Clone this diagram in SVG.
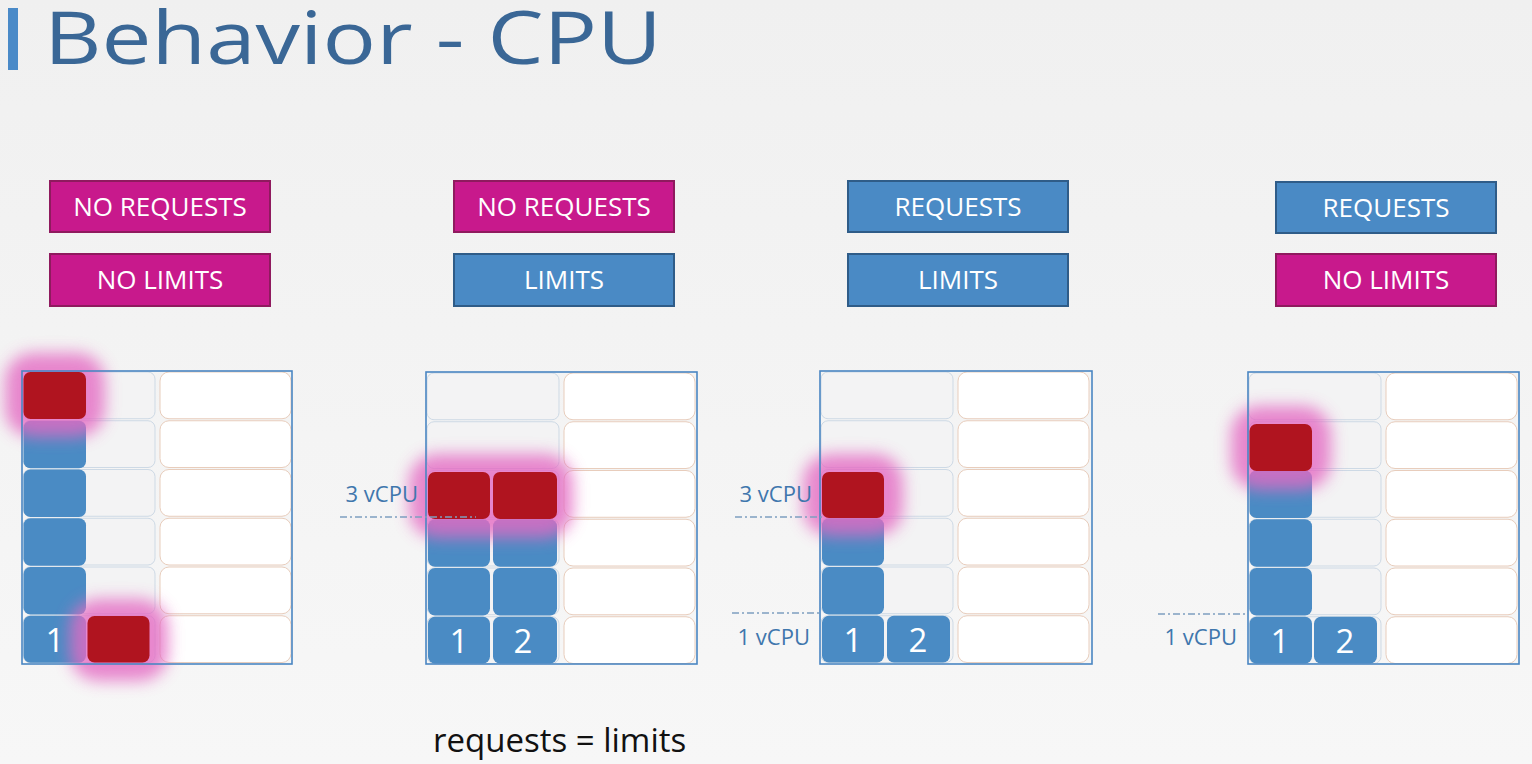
<svg xmlns="http://www.w3.org/2000/svg" xmlns:xlink="http://www.w3.org/1999/xlink" width="1532" height="764" viewBox="0 0 1532 764">
<defs>
<linearGradient id="bg" x1="0" y1="0" x2="0" y2="1">
<stop offset="0" stop-color="#f0f0f0"/>
<stop offset="1" stop-color="#f7f7f7"/>
</linearGradient>
<filter id="glow" filterUnits="userSpaceOnUse" x="-200" y="-200" width="600" height="700">
<feGaussianBlur stdDeviation="8"/>
</filter>
<g id="cells">
<rect class="lc" x="1" y="1" width="132" height="46.75"/>
<rect class="lc" x="1" y="49.75" width="132" height="46.75"/>
<rect class="lc" x="1" y="98.5" width="132" height="46.75"/>
<rect class="lc" x="1" y="147.25" width="132" height="46.75"/>
<rect class="lc" x="1" y="196" width="132" height="46.75"/>
<rect class="lc" x="1" y="244.75" width="132" height="46.75"/>
<rect class="rc" x="138" y="1" width="131" height="46.75"/>
<rect class="rc" x="138" y="49.75" width="131" height="46.75"/>
<rect class="rc" x="138" y="98.5" width="131" height="46.75"/>
<rect class="rc" x="138" y="147.25" width="131" height="46.75"/>
<rect class="rc" x="138" y="196" width="131" height="46.75"/>
<rect class="rc" x="138" y="244.75" width="131" height="46.75"/>
</g>
</defs>
<style>
.lc{fill:#f3f3f4;stroke:#cdd9e5;stroke-width:1;rx:7px;ry:7px}
.rc{fill:#ffffff;stroke:#e8cdbc;stroke-width:1;rx:9px;ry:9px}
.frame{fill:none;stroke:#4a86c2;stroke-width:1.6}
.blue{fill:#4a8bc4;rx:7px;ry:7px}
.red{fill:#b0141f;rx:7px;ry:7px}
.glow{fill:#e46ac3;opacity:0.8}
.num{font-family:"Open Sans","Noto Sans",sans-serif;font-size:33px;fill:#ffffff;text-anchor:middle}
.mag{fill:#c8198c;stroke:#8f1a5e;stroke-width:2}
.blu{fill:#4a8ac5;stroke:#2f5c88;stroke-width:2}
.btxt{font-family:"Open Sans","Noto Sans",sans-serif;font-size:26px;fill:#ffffff;text-anchor:middle}
.vcpu{font-family:"Open Sans","Noto Sans",sans-serif;font-size:22px;fill:#3f77ad;text-anchor:end}
.guide{stroke:#7e9ec0;stroke-width:1.3;stroke-dasharray:7 3 2 3;fill:none}
</style>
<rect x="0" y="0" width="1532" height="764" fill="url(#bg)"/>

<g id="title">
<rect x="8" y="8" width="10" height="62" fill="#4a8ac8"/>
<text x="44" y="64" font-family="Open Sans, Noto Sans, sans-serif" font-size="74" fill="#3a6796" textLength="618" lengthAdjust="spacingAndGlyphs">Behavior - CPU</text>
</g>

<!-- Buttons -->
<g id="p1-requests"><rect class="mag" x="50" y="181" width="220" height="51"/><text class="btxt" x="160" y="216">NO REQUESTS</text></g>
<g id="p1-limits"><rect class="mag" x="50" y="254" width="220" height="52"/><text class="btxt" x="160" y="289">NO LIMITS</text></g>
<g id="p2-requests"><rect class="mag" x="454" y="181" width="220" height="51"/><text class="btxt" x="564" y="216">NO REQUESTS</text></g>
<g id="p2-limits"><rect class="blu" x="454" y="254" width="220" height="52"/><text class="btxt" x="564" y="289">LIMITS</text></g>
<g id="p3-requests"><rect class="blu" x="848" y="181" width="220" height="51"/><text class="btxt" x="958" y="216">REQUESTS</text></g>
<g id="p3-limits"><rect class="blu" x="848" y="254" width="220" height="52"/><text class="btxt" x="958" y="289">LIMITS</text></g>
<g id="p4-requests"><rect class="blu" x="1276" y="182" width="220" height="51"/><text class="btxt" x="1386" y="217">REQUESTS</text></g>
<g id="p4-limits"><rect class="mag" x="1276" y="254" width="220" height="52"/><text class="btxt" x="1386" y="289">NO LIMITS</text></g>

<!-- Panel 1 -->
<g id="panel1" transform="translate(22,371)">
<use xlink:href="#cells"/>
<rect class="blue" x="1.5" y="49.75" width="62.5" height="47.5"/>
<rect class="blue" x="1.5" y="98.5" width="62.5" height="47.5"/>
<rect class="blue" x="1.5" y="147.25" width="62.5" height="47.5"/>
<rect class="blue" x="1.5" y="196" width="62.5" height="47.5"/>
<rect class="blue" x="1.5" y="244.75" width="62.5" height="47"/>
<rect class="glow" filter="url(#glow)" x="-17" y="-18" width="100" height="84" rx="28"/>
<rect class="glow" filter="url(#glow)" x="48" y="228" width="98" height="82" rx="28"/>
<rect class="red" x="1.5" y="1" width="62.5" height="47"/>
<rect class="red" x="65.5" y="245" width="62" height="46.5"/>
<text class="num" x="33" y="281">1</text>
<rect class="frame" x="0" y="0" width="270" height="293"/>
</g>

<!-- Panel 2 -->
<g id="panel2" transform="translate(426,372)">
<use xlink:href="#cells"/>
<rect class="blue" x="2" y="147.25" width="62" height="47.5"/>
<rect class="blue" x="2" y="196" width="62" height="47.5"/>
<rect class="blue" x="2" y="244.75" width="62" height="46.75"/>
<rect class="blue" x="67" y="147.25" width="64" height="47.5"/>
<rect class="blue" x="67" y="196" width="64" height="47.5"/>
<rect class="blue" x="67" y="244.75" width="64" height="46.75"/>
<rect class="glow" filter="url(#glow)" x="-17" y="82" width="164" height="84" rx="28"/>
<rect class="red" x="2" y="100" width="62" height="47"/>
<rect class="red" x="67" y="100" width="64" height="47"/>
<text class="num" x="33" y="281">1</text>
<text class="num" x="97" y="281">2</text>
<rect class="frame" x="0" y="0" width="271" height="292"/>
</g>

<!-- Panel 3 -->
<g id="panel3" transform="translate(820,371)">
<use xlink:href="#cells"/>
<rect class="blue" x="2" y="147.25" width="62" height="47.5"/>
<rect class="blue" x="2" y="196" width="62" height="47.5"/>
<rect class="blue" x="2" y="244.75" width="62" height="46.75"/>
<rect class="blue" x="67" y="244.75" width="63" height="46.75"/>
<rect class="glow" filter="url(#glow)" x="-17" y="83" width="100" height="82" rx="28"/>
<rect class="red" x="2" y="101" width="62" height="46"/>
<text class="num" x="33" y="281">1</text>
<text class="num" x="98" y="281">2</text>
<rect class="frame" x="0" y="0" width="272" height="293"/>
</g>

<!-- Panel 4 -->
<g id="panel4" transform="translate(1248,372)">
<use xlink:href="#cells"/>
<rect class="blue" x="1.5" y="98.5" width="62.5" height="47.5"/>
<rect class="blue" x="1.5" y="147.25" width="62.5" height="47.5"/>
<rect class="blue" x="1.5" y="196" width="62.5" height="47.5"/>
<rect class="blue" x="1.5" y="244.75" width="62.5" height="46.75"/>
<rect class="blue" x="66" y="244.75" width="63" height="46.75"/>
<rect class="glow" filter="url(#glow)" x="-17" y="34" width="100" height="84" rx="28"/>
<rect class="red" x="1.5" y="52" width="62.5" height="47"/>
<text class="num" x="32" y="281">1</text>
<text class="num" x="97" y="281">2</text>
<rect class="frame" x="0" y="0" width="271" height="292"/>
</g>

<!-- Guide lines -->
<g id="connectors">
<line class="guide" x1="340" y1="517" x2="476" y2="517"/>
<line class="guide" x1="735" y1="517" x2="822" y2="517"/>
<line class="guide" x1="732" y1="613" x2="820" y2="613"/>
<line class="guide" x1="1158" y1="614" x2="1248" y2="614"/>
</g>

<g id="labels">
<text class="vcpu" x="418" y="502">3 vCPU</text>
<text class="vcpu" x="812" y="502">3 vCPU</text>
<text class="vcpu" x="810" y="645">1 vCPU</text>
<text class="vcpu" x="1237" y="645">1 vCPU</text>
<text x="433" y="752" font-family="Open Sans, Noto Sans, sans-serif" font-size="33" fill="#111111">requests = limits</text>
</g>
</svg>
